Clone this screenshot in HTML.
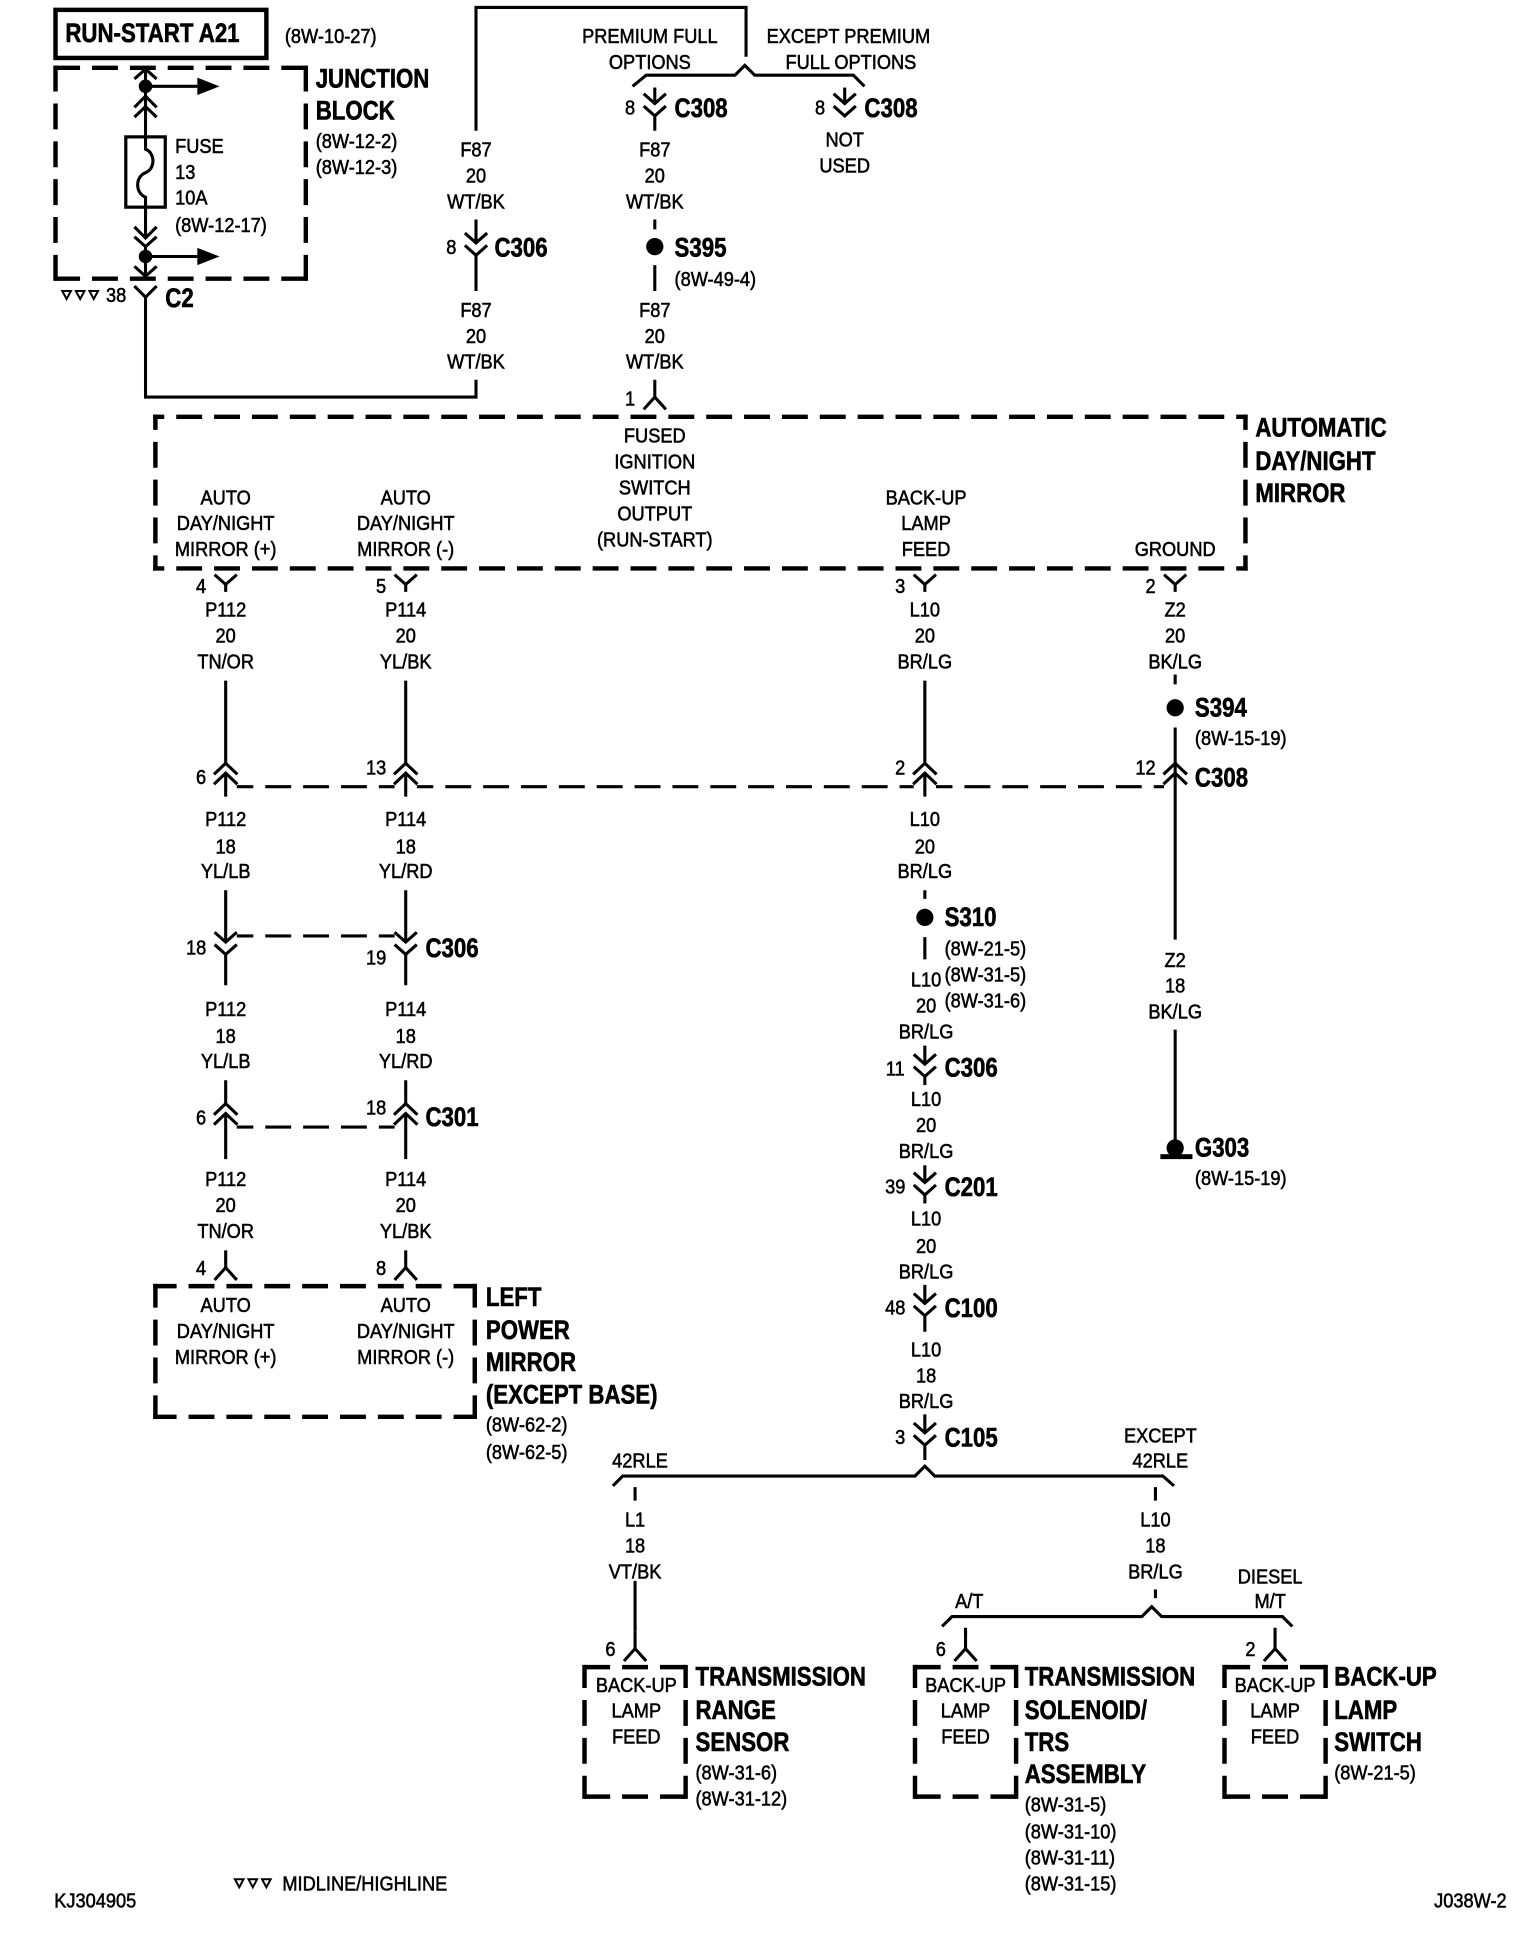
<!DOCTYPE html>
<html><head><meta charset="utf-8"><title>Wiring diagram J038W-2</title>
<style>
html,body{margin:0;padding:0;background:#fff}
svg{display:block}
text{font-family:"Liberation Sans",sans-serif;fill:#000;transform-box:fill-box}
.r text{font-size:16.6px;stroke:#000;stroke-width:.45;transform-origin:0 50%;transform:scaleX(.89)}
.m text{text-anchor:middle;transform-origin:50% 50%}
.b text{font-size:22px;font-weight:bold;stroke:#000;stroke-width:.5;transform-origin:0 50%;transform:scaleX(.82)}
.w{fill:none;stroke:#000;stroke-width:2.5}
.d{fill:none;stroke:#000;stroke-width:2.5;stroke-dasharray:21 9.7}
.x{fill:none;stroke:#000;stroke-width:3.6;stroke-dasharray:21 9.7}
</style></head><body>
<svg xmlns="http://www.w3.org/2000/svg" width="1536" height="1934" viewBox="0 0 1245.6 1568.4">
<defs>
<path id="dn" class="w" d="M-9,-11L0,-3L9,-11M-9,-1L0,7L9,-1"/>
<path id="up" class="w" d="M-9.5,-2L0,-11L9.5,-2M-9.5,6L0,-3L9.5,6"/>
<path id="y" class="w" d="M-9,-6L0,2L9,-6M0,2V8"/>
<path id="a" class="w" d="M-9,10L0,0L9,10M0,0V-14"/>
<path id="tri" fill="none" stroke="#000" stroke-width="1.6" d="M-3.5,-3H3.5L0,3.5Z"/>
</defs>
<rect x="0" y="0" width="1245.6" height="1568.4" fill="#fff"/>
<rect x="45" y="8" width="171" height="39" fill="none" stroke="#000" stroke-width="3.6"/>

<path class="x" stroke-dashoffset="-.7" d="M43.2,55H249.8M43.2,226H249.8"/>
<path class="x" stroke-dashoffset="0" d="M45,53.2V227.8M248,53.2V227.8"/>
<path class="x" stroke-dashoffset="12" d="M124.2,338H1011.8M124.2,461H1011.8"/>
<path class="x" stroke-dashoffset="8.6" d="M126,336.2V462.8M1010,336.2V462.8"/>
<path class="x" stroke-dashoffset="2" d="M124.2,1043H386.8M124.2,1149H386.8"/>
<path class="x" stroke-dashoffset="1.75" d="M126,1041.2V1150.8M385,1041.2V1150.8"/>
<path class="x" stroke-dashoffset="-1.6" d="M472.2,1352H557.8M472.2,1457H557.8M740.2,1352H825.8M740.2,1457H825.8M991.2,1352H1076.8M991.2,1457H1076.8"/>
<path class="x" stroke-dashoffset="2.25" d="M474,1350.2V1458.8M556,1350.2V1458.8M742,1350.2V1458.8M824,1350.2V1458.8M993,1350.2V1458.8M1075,1350.2V1458.8"/>

<path class="w" d="M118,55V87M118,200V224M118,241V322H386V308"/>
<path class="w" d="M118,70H160M118,208H160"/>
<path d="M160,63L178,70L160,77ZM160,201L178,208L160,215Z"/>
<circle cx="118" cy="70" r="5.5"/><circle cx="118" cy="208" r="5.5"/>
<rect x="102" y="111" width="32" height="57" fill="#fff" stroke="#000" stroke-width="2.6"/>
<path class="w" d="M118,87V121C126,124 126,137 118,140C110,143 109,156 118,160V192"/>
<path class="w" d="M109,64L118,56L127,64M109,87L118,78L127,87M109,95L118,86.5L127,95M109,184L118,193L127,184M109,192L118,200L127,192M109,216L118,224L127,216M109,232L118,241L127,232"/>
<path class="w" d="M386,106V6H605V46"/>
<path class="w" d="M513,70L524,61H596L604,53L612,61H692L701,70"/>
<use href="#dn" x="531" y="87"/><path class="w" d="M531,71V84M531,94V106"/>
<use href="#dn" x="685" y="87"/><path class="w" d="M685,71V84"/>
<use href="#dn" x="386" y="200"/><path class="w" d="M386,178V197M386,207V236"/>
<path class="w" d="M531,178V186M531,215V236"/><circle cx="531" cy="200" r="7"/>
<use href="#a" x="531" y="322"/>
<use href="#y" x="183" y="472"/><use href="#y" x="329" y="472"/><use href="#y" x="750" y="472"/><use href="#y" x="953" y="472"/>
<path class="w" d="M183,552V619M329,552V619M750,552V619M953,590V762M953,835V925"/>
<use href="#up" x="183" y="630"/><use href="#up" x="329" y="630"/><use href="#up" x="750" y="630"/><use href="#up" x="953" y="630"/>
<path class="w" d="M183,627V646M329,627V646M750,627V646"/>
<path class="d" stroke-dashoffset="7.6" d="M192,638H320"/>
<path class="d" stroke-dashoffset="7.6" d="M338,638H741"/>
<path class="d" stroke-dashoffset="7.6" d="M759,638H944"/>
<path class="w" d="M953,547V555"/><circle cx="953" cy="574" r="7"/>
<path class="w" d="M183,722V764M329,722V764M183,774V799M329,774V799"/>
<use href="#dn" x="183" y="767"/><use href="#dn" x="329" y="767"/>
<path class="d" stroke-dashoffset="7.6" d="M192,759H320"/>
<path class="w" d="M183,876V895M329,876V895M183,903V940M329,903V940"/>
<use href="#up" x="183" y="906"/><use href="#up" x="329" y="906"/>
<path class="d" stroke-dashoffset="7.6" d="M192,914H320"/>
<use href="#a" x="183" y="1028"/><use href="#a" x="329" y="1028"/>
<path class="w" d="M750,722V729M750,760V778"/><circle cx="750" cy="744" r="7"/>
<use href="#dn" x="750" y="866"/><use href="#dn" x="750" y="962"/><use href="#dn" x="750" y="1060"/><use href="#dn" x="750" y="1165"/>
<path class="w" d="M750,848V863M750,873V880M750,945V959M750,969V976M750,1042V1057M750,1067V1080M750,1147V1162M750,1172V1184"/>
<path class="w" d="M497,1205L505,1197H742L750,1189L758,1197H943L952,1205"/>
<path class="w" d="M515,1206V1217M937,1206V1217M515,1282V1323M937,1289V1296"/>
<use href="#a" x="515" y="1337"/>
<path class="w" d="M764,1319L772,1311H926L934,1303L942,1311H1040L1048,1319"/>
<use href="#a" x="783" y="1337"/><use href="#a" x="1034" y="1337"/>
<path class="w" d="M783,1320V1325M1034,1320V1325"/>
<circle cx="953" cy="931" r="7"/><rect x="941" y="936" width="26" height="4"/>
<use href="#tri" x="54" y="239"/><use href="#tri" x="65" y="239"/><use href="#tri" x="76" y="239"/>
<use href="#tri" x="194" y="1527"/><use href="#tri" x="205" y="1527"/><use href="#tri" x="216" y="1527"/>

<g class="b">
<text x="53" y="34">RUN-START A21</text>
<text x="256" y="71">JUNCTION</text><text x="256" y="97">BLOCK</text>
<text x="547" y="95">C308</text><text x="701" y="95">C308</text>
<text x="401" y="208">C306</text><text x="547" y="208">S395</text>
<text x="134" y="249">C2</text>
<text x="1018" y="354">AUTOMATIC</text><text x="1018" y="381">DAY/NIGHT</text><text x="1018" y="407">MIRROR</text>
<text x="969" y="581">S394</text><text x="969" y="638">C308</text><text x="969" y="938">G303</text>
<text x="345" y="776">C306</text><text x="345" y="913">C301</text>
<text x="766" y="751">S310</text><text x="766" y="873">C306</text><text x="766" y="970">C201</text><text x="766" y="1068">C100</text><text x="766" y="1173">C105</text>
<text x="394" y="1059">LEFT</text><text x="394" y="1086">POWER</text><text x="394" y="1112">MIRROR</text><text x="394" y="1138">(EXCEPT BASE)</text>
<text x="564" y="1367">TRANSMISSION</text><text x="564" y="1394">RANGE</text><text x="564" y="1420">SENSOR</text>
<text x="831" y="1367">TRANSMISSION</text><text x="831" y="1394">SOLENOID/</text><text x="831" y="1420">TRS</text><text x="831" y="1446">ASSEMBLY</text>
<text x="1082" y="1367">BACK-UP</text><text x="1082" y="1394">LAMP</text><text x="1082" y="1420">SWITCH</text>
</g>
<g class="r">
<text x="231" y="35">(8W-10-27)</text>
<text x="142" y="124">FUSE</text><text x="142" y="145">13</text><text x="142" y="166">10A</text><text x="142" y="188">(8W-12-17)</text>
<text x="256" y="120">(8W-12-2)</text><text x="256" y="141">(8W-12-3)</text>
<text x="547" y="232">(8W-49-4)</text>
<text x="969" y="604">(8W-15-19)</text><text x="969" y="961">(8W-15-19)</text>
<text x="766" y="775">(8W-21-5)</text><text x="766" y="796">(8W-31-5)</text><text x="766" y="817">(8W-31-6)</text>
<text x="394" y="1161">(8W-62-2)</text><text x="394" y="1183">(8W-62-5)</text>
<text x="564" y="1443">(8W-31-6)</text><text x="564" y="1464">(8W-31-12)</text>
<text x="831" y="1469">(8W-31-5)</text><text x="831" y="1491">(8W-31-10)</text><text x="831" y="1512">(8W-31-11)</text><text x="831" y="1533">(8W-31-15)</text>
<text x="1082" y="1443">(8W-21-5)</text>
<text x="229" y="1533">MIDLINE/HIGHLINE</text>
<text x="44" y="1547">KJ304905</text><text x="1163" y="1547">J038W-2</text>
<text x="86" y="245">38</text>
</g>
<g class="r m">
<text x="527" y="35">PREMIUM FULL</text><text x="527" y="56">OPTIONS</text>
<text x="688" y="35">EXCEPT PREMIUM</text><text x="690" y="56">FULL OPTIONS</text>
<text x="511" y="93">8</text><text x="665" y="93">8</text>
<text x="685" y="119">NOT</text><text x="685" y="140">USED</text>
<text x="386" y="127">F87</text><text x="386" y="148">20</text><text x="386" y="169">WT/BK</text>
<text x="531" y="127">F87</text><text x="531" y="148">20</text><text x="531" y="169">WT/BK</text>
<text x="366" y="206">8</text>
<text x="386" y="257">F87</text><text x="386" y="278">20</text><text x="386" y="299">WT/BK</text>
<text x="531" y="257">F87</text><text x="531" y="278">20</text><text x="531" y="299">WT/BK</text>
<text x="511" y="329">1</text>
<text x="531" y="359">FUSED</text><text x="531" y="380">IGNITION</text><text x="531" y="401">SWITCH</text><text x="531" y="422">OUTPUT</text><text x="531" y="443">(RUN-START)</text>
<text x="183" y="409">AUTO</text><text x="183" y="430">DAY/NIGHT</text><text x="183" y="451">MIRROR (+)</text>
<text x="329" y="409">AUTO</text><text x="329" y="430">DAY/NIGHT</text><text x="329" y="451">MIRROR (-)</text>
<text x="751" y="409">BACK-UP</text><text x="751" y="430">LAMP</text><text x="751" y="451">FEED</text>
<text x="953" y="451">GROUND</text>
<text x="163" y="481">4</text><text x="309" y="481">5</text><text x="730" y="481">3</text><text x="933" y="481">2</text>
<text x="183" y="500">P112</text><text x="183" y="521">20</text><text x="183" y="542">TN/OR</text>
<text x="329" y="500">P114</text><text x="329" y="521">20</text><text x="329" y="542">YL/BK</text>
<text x="750" y="500">L10</text><text x="750" y="521">20</text><text x="750" y="542">BR/LG</text>
<text x="953" y="500">Z2</text><text x="953" y="521">20</text><text x="953" y="542">BK/LG</text>
<text x="163" y="636">6</text><text x="305" y="628">13</text><text x="730" y="628">2</text><text x="929" y="628">12</text>
<text x="183" y="670">P112</text><text x="183" y="692">18</text><text x="183" y="712">YL/LB</text>
<text x="329" y="670">P114</text><text x="329" y="692">18</text><text x="329" y="712">YL/RD</text>
<text x="750" y="670">L10</text><text x="750" y="692">20</text><text x="750" y="712">BR/LG</text>
<text x="159" y="774">18</text><text x="305" y="782">19</text>
<text x="183" y="824">P112</text><text x="183" y="846">18</text><text x="183" y="866">YL/LB</text>
<text x="329" y="824">P114</text><text x="329" y="846">18</text><text x="329" y="866">YL/RD</text>
<text x="163" y="912">6</text><text x="305" y="904">18</text>
<text x="183" y="962">P112</text><text x="183" y="983">20</text><text x="183" y="1004">TN/OR</text>
<text x="329" y="962">P114</text><text x="329" y="983">20</text><text x="329" y="1004">YL/BK</text>
<text x="163" y="1034">4</text><text x="309" y="1034">8</text>
<text x="183" y="1064">AUTO</text><text x="183" y="1085">DAY/NIGHT</text><text x="183" y="1106">MIRROR (+)</text>
<text x="329" y="1064">AUTO</text><text x="329" y="1085">DAY/NIGHT</text><text x="329" y="1106">MIRROR (-)</text>
<text x="953" y="784">Z2</text><text x="953" y="805">18</text><text x="953" y="826">BK/LG</text>
<text x="751" y="800">L10</text><text x="751" y="821">20</text><text x="751" y="842">BR/LG</text>
<text x="726" y="872">11</text>
<text x="751" y="897">L10</text><text x="751" y="918">20</text><text x="751" y="939">BR/LG</text>
<text x="726" y="968">39</text>
<text x="751" y="994">L10</text><text x="751" y="1016">20</text><text x="751" y="1037">BR/LG</text>
<text x="726" y="1066">48</text>
<text x="751" y="1100">L10</text><text x="751" y="1121">18</text><text x="751" y="1142">BR/LG</text>
<text x="730" y="1171">3</text>
<text x="941" y="1170">EXCEPT</text><text x="941" y="1190">42RLE</text>
<text x="519" y="1190">42RLE</text>
<text x="515" y="1238">L1</text><text x="515" y="1259">18</text><text x="515" y="1280">VT/BK</text>
<text x="937" y="1238">L10</text><text x="937" y="1259">18</text><text x="937" y="1280">BR/LG</text>
<text x="1030" y="1284">DIESEL</text><text x="1030" y="1304">M/T</text>
<text x="786" y="1304">A/T</text>
<text x="495" y="1343">6</text><text x="763" y="1343">6</text><text x="1014" y="1343">2</text>
<text x="516" y="1372">BACK-UP</text><text x="516" y="1393">LAMP</text><text x="516" y="1414">FEED</text>
<text x="783" y="1372">BACK-UP</text><text x="783" y="1393">LAMP</text><text x="783" y="1414">FEED</text>
<text x="1034" y="1372">BACK-UP</text><text x="1034" y="1393">LAMP</text><text x="1034" y="1414">FEED</text>
</g>
</svg>
</body></html>
